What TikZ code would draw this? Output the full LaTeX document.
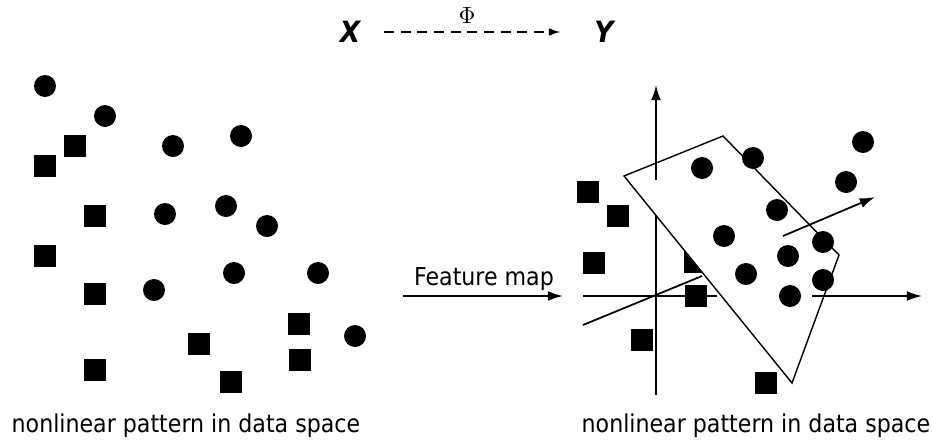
\documentclass[tikz,border=0pt]{standalone}
\usepackage{fontspec}
\newfontfamily\labelfont{DejaVu Sans Condensed}
\usetikzlibrary{arrows.meta, positioning}

\begin{document}
\begin{tikzpicture}[x=0.03cm, y=-0.03cm, line width=1.5pt,
    dot/.style={circle, fill, inner sep=0pt, minimum size=0.66cm},
    blk/.style={rectangle, fill, inner sep=0pt, minimum size=0.66cm},
    lbl/.style={font=\labelfont\fontsize{21}{25}\selectfont, inner sep=0pt, anchor=base},
    var/.style={font=\labelfont\bfseries\itshape\fontsize{25}{30}\selectfont, inner sep=0pt},
    arr/.style={-{Latex[length=13pt, width=8.5pt]}}]
    \useasboundingbox (0,0) rectangle (932,441);

    % mapping X --> Y
    \node[var] (x) at (350,32) {X};
    \node[var] (y) at (604,32) {Y};
    \node[inner sep=0pt] (phi) at (467,15) {\scalebox{2}{$\Phi$}};
    \draw[-{Latex[length=10pt, width=6.5pt]}, line width=1.2pt,
        dash pattern=on 0.3cm off 0.2cm,
        shorten <=0.69cm, shorten >=0.99cm] (x) -- (y);

    % data space
    \foreach \p [count=\i] in {(45,86), (105,116), (173,146), (241,136), (165,214),
        (226,206), (267,226), (234,273), (318,273), (154,290), (355,336)}
        \node[dot] (la\i) at \p {};
    \foreach \p [count=\i] in {(75,146), (45,166), (95,216), (45,256), (95,294),
        (199,344), (299,324), (300,360), (95,370), (231,382)}
        \node[blk] (lb\i) at \p {};
    \node[lbl] (left) at (186,432) {nonlinear pattern in data space};

    % feature map
    \coordinate (fm0) at (403,296);
    \coordinate (fm1) at (563,296);
    \node[lbl] (fm) at (484,285) {Feature map};
    \draw[arr] (fm0) -- (fm1);

    % feature space
    \node[blk] (rb0) at (695,262) {};
    \coordinate (p1) at (624,176);
    \coordinate (p2) at (723,136);
    \coordinate (p3) at (839,255);
    \coordinate (p4) at (792,383);
    \draw[fill=white, line width=1.2pt] (p1) -- (p2) -- (p3) -- (p4) -- cycle;

    \coordinate (v0) at (656,395);
    \coordinate (v1) at (656,215);
    \coordinate (v2) at (656,180);
    \coordinate (v3) at (656,85);
    \coordinate (h0) at (583,296);
    \coordinate (h1) at (717,296);
    \coordinate (h2) at (812,296);
    \coordinate (h3) at (922,296);
    \coordinate (d0) at (583,325);
    \coordinate (d1) at (702,276);
    \coordinate (d2) at (783,236);
    \coordinate (d3) at (875,197);
    \draw (v0) -- (v1);
    \draw[arr] (v2) -- (v3);
    \draw (h0) -- (h1);
    \draw[arr] (h2) -- (h3);
    \draw (d0) -- (d1);
    \draw[arr] (d2) -- (d3);

    \foreach \p [count=\i] in {(588,192), (618,216), (594,263), (696,296),
        (642,340), (766,383)}
        \node[blk] (rb\i) at \p {};
    \foreach \p [count=\i] in {(702,168), (753,158), (863,142), (846,182), (777,210),
        (724,236), (823,242), (788,256), (746,274), (823,280), (790,296)}
        \node[dot] (ra\i) at \p {};
    \node[lbl] (right) at (756,432) {nonlinear pattern in data space};
\end{tikzpicture}
\end{document}
